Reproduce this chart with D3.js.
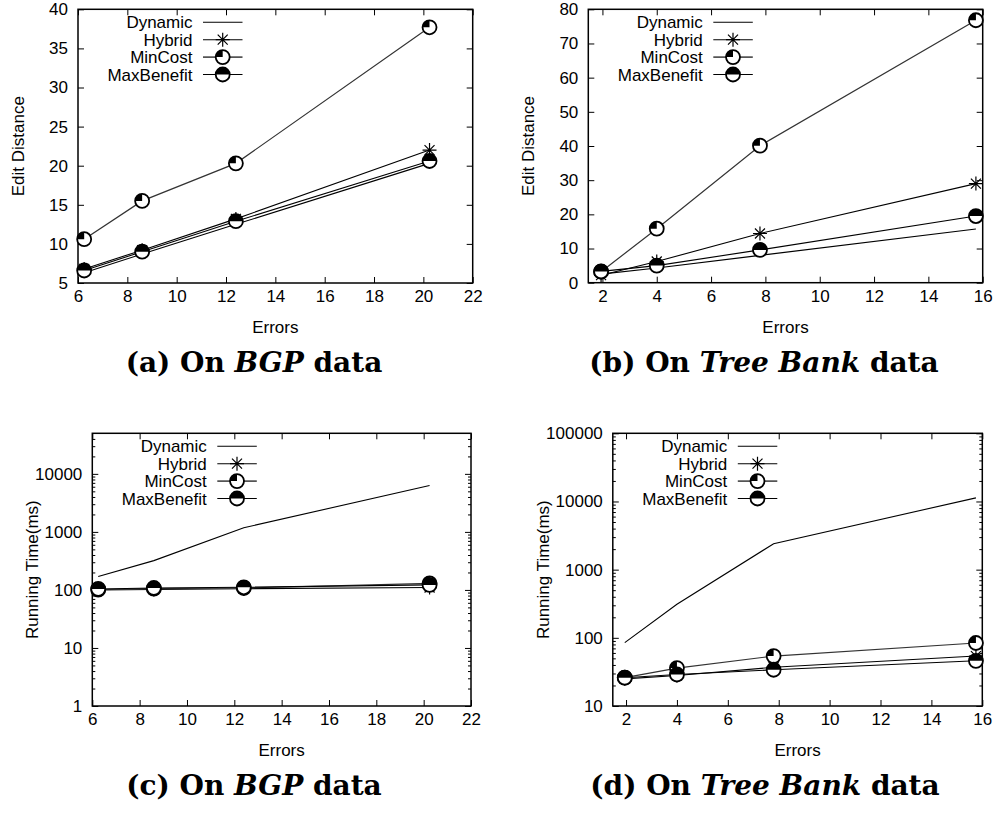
<!DOCTYPE html>
<html>
<head>
<meta charset="utf-8">
<script src="https://cdn.jsdelivr.net/npm/d3@7"></script>
<style>
  html, body { margin: 0; padding: 0; background: #fff; }
  svg { display: block; }
  text { font-family: "Liberation Sans", Arial, sans-serif; fill: #000; }
</style>
</head>
<body>
<svg id="chart" width="1000" height="814"></svg>
<script>
// ---------------- data ----------------
const seriesNames = ["Dynamic", "Hybrid", "MinCost", "MaxBenefit"];

// BGP data
const bgpErrors = [6.25, 8.6, 12.4, 20.25];
const bgpEditDynamic    = [6.3, 8.7, 12.5, 20.3];
const bgpEditHybrid     = [6.8, 9.2, 13.2, 22.0];
const bgpEditMinCost    = [10.6, 15.5, 20.3, 37.7];
const bgpEditMaxBenefit = [6.6, 9.0, 12.9, 20.6];
const bgpTimeDynamic    = [170, 320, 1180, 6300];
const bgpTimeHybrid     = [100, 102, 105, 110];
const bgpTimeMinCost    = [101, 105, 108, 130];
const bgpTimeMaxBenefit = [104, 108, 111, 122];

// Tree Bank data
const tbErrors = [1.95, 4.0, 7.8, 15.75];
const tbEditDynamic    = [2.5, 4.3, 8.0, 15.7];
const tbEditHybrid     = [2.2, 6.2, 14.4, 29.0];
const tbEditMinCost    = [3.2, 15.8, 40.1, 76.8];
const tbEditMaxBenefit = [3.3, 5.0, 9.6, 19.5];
const tbTimeDynamic    = [85, 310, 2400, 11300];
const tbTimeHybrid     = [25, 28, 37, 54];
const tbTimeMinCost    = [26, 36, 54, 84];
const tbTimeMaxBenefit = [26, 29, 34, 46];

// tick labels
const bgpXTicks = [6, 8, 10, 12, 14, 16, 18, 20, 22];
const tbXTicks = [2, 4, 6, 8, 10, 12, 14, 16];
const bgpEditTicks = [5, 10, 15, 20, 25, 30, 35, 40];
const tbEditTicks = [0, 10, 20, 30, 40, 50, 60, 70, 80];
const bgpTimeTicks = [1, 10, 100, 1000, 10000];
const tbTimeTicks = [10, 100, 1000, 10000, 100000];

// ---------------- drawing ----------------
const svg = d3.select("#chart");
const FONT = 17;

function markerPath(g, type, cx, cy) {
  const r = 7;
  const m = g.append("g").attr("transform", `translate(${cx},${cy})`);
  if (type === "Hybrid") {
    m.append("path")
      .attr("d", "M-7,0H7M0,-7V7M-5,-5L5,5M-5,5L5,-5")
      .attr("stroke", "#000").attr("stroke-width", 1.2).attr("fill", "none");
  } else if (type === "MinCost" || type === "MaxBenefit") {
    m.append("circle").attr("r", r).attr("fill", "#fff");
    const d = type === "MinCost"
      ? `M0,0L${-r},0A${r},${r} 0 0 1 0,${-r}Z`
      : `M${-r},0A${r},${r} 0 0 1 ${r},0Z`;
    m.append("path").attr("d", d).attr("fill", "#000");
    m.append("circle").attr("r", r).attr("fill", "none")
      .attr("stroke", "#000").attr("stroke-width", 1.8);
  }
}

function drawPanel(cfg) {
  const g = svg.append("g");
  const x = d3.scaleLinear().domain(cfg.xDomain).range([cfg.left, cfg.right]);
  const y = (cfg.log ? d3.scaleLog() : d3.scaleLinear())
    .domain(cfg.yDomain).range([cfg.bottom, cfg.top]);

  const fmt = d3.format("d");

  g.append("g").attr("transform", `translate(0,${cfg.bottom})`)
    .call(d3.axisBottom(x).tickValues(cfg.xTicks).tickSizeInner(-6).tickSizeOuter(0).tickPadding(7).tickFormat(d3.format("d")));
  g.append("g").attr("transform", `translate(0,${cfg.top})`)
    .call(d3.axisTop(x).tickValues(cfg.xTicks).tickSizeInner(-6).tickSizeOuter(0).tickFormat(""));
  g.append("g").attr("transform", `translate(${cfg.left},0)`)
    .call(d3.axisLeft(y).tickValues(cfg.yTicks).tickSizeInner(-6).tickSizeOuter(0).tickPadding(10).tickFormat(fmt));
  g.append("g").attr("transform", `translate(${cfg.right},0)`)
    .call(d3.axisRight(y).tickValues(cfg.yTicks).tickSizeInner(-6).tickSizeOuter(0).tickFormat(""));

  if (cfg.log) {
    const minor = [];
    cfg.yTicks.forEach(t => { for (let k = 2; k <= 9; k++) { const v = t * k; if (v < cfg.yDomain[1]) minor.push(v); } });
    g.append("g").attr("transform", `translate(${cfg.left},0)`)
      .call(d3.axisLeft(y).tickValues(minor).tickSizeInner(-3).tickSizeOuter(0).tickFormat(""));
    g.append("g").attr("transform", `translate(${cfg.right},0)`)
      .call(d3.axisRight(y).tickValues(minor).tickSizeInner(-3).tickSizeOuter(0).tickFormat(""));
  }

  g.selectAll(".domain").remove();
  g.selectAll(".tick line").attr("stroke", "#000").attr("stroke-width", 1);
  g.selectAll(".tick text").attr("font-size", FONT).attr("font-family", "Liberation Sans, Arial, sans-serif").attr("fill", "#000");

  g.append("rect")
    .attr("x", cfg.left).attr("y", cfg.top)
    .attr("width", cfg.right - cfg.left).attr("height", cfg.bottom - cfg.top)
    .attr("fill", "none").attr("stroke", "#000").attr("stroke-width", 1.5);

  const line = d3.line().x(d => x(d[0])).y(d => y(d[1]));
  const styles = {
    Dynamic: { stroke: "#000", w: 1.1 },
    Hybrid: { stroke: "#000", w: 1.1 },
    MinCost: { stroke: "#333", w: 1.2 },
    MaxBenefit: { stroke: "#000", w: 1.1 }
  };
  seriesNames.forEach((name, i) => {
    const pts = cfg.xs.map((xv, j) => [xv, cfg.series[i][j]]);
    g.append("path").attr("d", line(pts)).attr("fill", "none")
      .attr("stroke", styles[name].stroke).attr("stroke-width", styles[name].w);
    if (name !== "Dynamic") {
      pts.forEach(p => markerPath(g, name, x(p[0]), y(p[1])));
    }
  });

  seriesNames.forEach((name, i) => {
    const ry = cfg.top + 13 + i * 17.4;
    g.append("text").attr("x", cfg.left + 114.5).attr("y", ry + 6)
      .attr("text-anchor", "end").attr("font-size", FONT).text(name);
    g.append("line").attr("x1", cfg.left + 125).attr("x2", cfg.left + 164.5)
      .attr("y1", ry).attr("y2", ry)
      .attr("stroke", name === "MinCost" ? "#555" : "#000")
      .attr("stroke-width", name === "MinCost" ? 1.6 : 1.1);
    markerPath(g, name, cfg.left + 144.7, ry);
  });

  g.append("text").attr("transform", `translate(${cfg.ylabX},${(cfg.top + cfg.bottom) / 2}) rotate(-90)`)
    .attr("text-anchor", "middle").attr("dy", "0.35em").attr("font-size", FONT).text(cfg.ylabel);
  g.append("text").attr("x", (cfg.left + cfg.right) / 2).attr("y", cfg.bottom + 50)
    .attr("text-anchor", "middle").attr("font-size", FONT).text("Errors");

  const cap = g.append("text").attr("x", cfg.capX).attr("y", cfg.bottom + 89)
    .attr("text-anchor", "middle")
    .style("font-family", "'DejaVu Serif', serif").style("font-weight", "bold").attr("font-size", 28);
  cap.append("tspan").text(cfg.cap[0] + " On ");
  cap.append("tspan").style("font-style", "italic").text(cfg.cap[1]);
  cap.append("tspan").text(" data");
}

drawPanel({
  left: 78, right: 472.7, top: 9.3, bottom: 283,
  xDomain: [6, 22], yDomain: [5, 40], log: false,
  xTicks: bgpXTicks, yTicks: bgpEditTicks, xs: bgpErrors,
  series: [bgpEditDynamic, bgpEditHybrid, bgpEditMinCost, bgpEditMaxBenefit],
  ylabel: "Edit Distance", ylabX: 18.3, capX: 254, cap: ["(a)", "BGP"]
});
drawPanel({
  left: 588.3, right: 982.7, top: 9.3, bottom: 282.7,
  xDomain: [1.48, 16], yDomain: [0, 80], log: false,
  xTicks: tbXTicks, yTicks: tbEditTicks, xs: tbErrors,
  series: [tbEditDynamic, tbEditHybrid, tbEditMinCost, tbEditMaxBenefit],
  ylabel: "Edit Distance", ylabX: 528.3, capX: 764, cap: ["(b)", "Tree Bank"]
});
drawPanel({
  left: 92.3, right: 471, top: 433.3, bottom: 706,
  xDomain: [6, 22], yDomain: [1, 50000], log: true,
  xTicks: bgpXTicks, yTicks: bgpTimeTicks, xs: bgpErrors,
  series: [bgpTimeDynamic, bgpTimeHybrid, bgpTimeMinCost, bgpTimeMaxBenefit],
  ylabel: "Running Time(ms)", ylabX: 31.7, capX: 254, cap: ["(c)", "BGP"]
});
drawPanel({
  left: 612.8, right: 982.3, top: 433.3, bottom: 706,
  xDomain: [1.48, 16], yDomain: [10, 100000], log: true,
  xTicks: tbXTicks, yTicks: tbTimeTicks, xs: tbErrors,
  series: [tbTimeDynamic, tbTimeHybrid, tbTimeMinCost, tbTimeMaxBenefit],
  ylabel: "Running Time(ms)", ylabX: 542.7, capX: 765, cap: ["(d)", "Tree Bank"]
});
</script>
</body>
</html>
